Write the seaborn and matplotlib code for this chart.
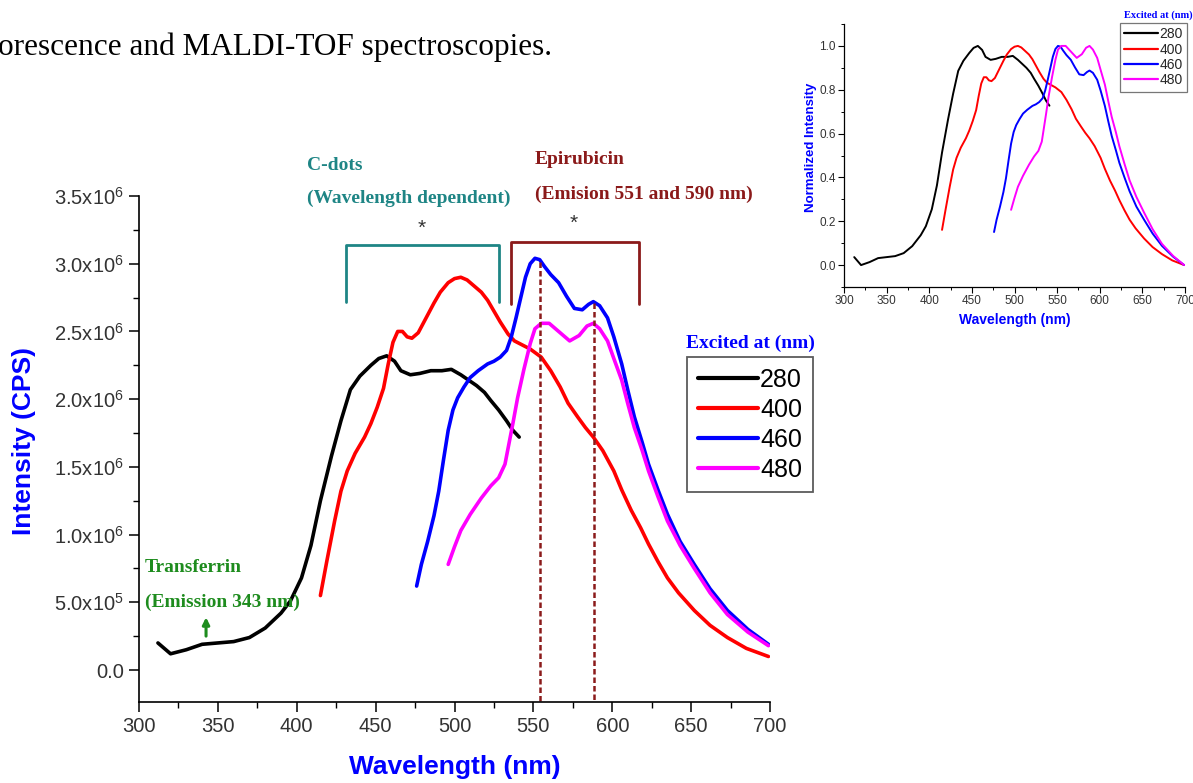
import numpy as np
import pandas as pd
import matplotlib
matplotlib.use("Agg")
import matplotlib.pyplot as plt
import seaborn as sns
from matplotlib.ticker import MultipleLocator, FuncFormatter, FormatStrFormatter
from matplotlib.lines import Line2D

# ---------------- data ----------------
w_280 = [312, 320, 330, 340, 350, 360, 370, 380, 390, 396, 403, 409, 415, 422, 428, 434, 440, 447,
         452, 457, 462, 466, 472, 478, 485, 492, 498, 504, 509, 514, 519, 523, 528, 533, 537, 541]
i_280 = [0.20, 0.12, 0.15, 0.19, 0.20, 0.21, 0.24, 0.31, 0.42, 0.51, 0.68, 0.92, 1.25, 1.58, 1.84,
         2.07, 2.17, 2.25, 2.30, 2.32, 2.28, 2.21, 2.18, 2.19, 2.21, 2.21, 2.22, 2.18, 2.14, 2.10,
         2.05, 1.99, 1.92, 1.84, 1.77, 1.72]

w_400 = [415, 419, 424, 428, 432, 437, 443, 447, 451, 455, 458, 461, 464, 467, 470, 473, 477, 482,
         487, 491, 496, 500, 504, 508, 512, 517, 521, 525, 529, 534, 538, 543, 548, 555, 561, 567,
         572, 578, 583, 588, 594, 601, 606, 612, 618, 623, 629, 635, 642, 652, 662, 673, 685, 699]
i_400 = [0.55, 0.80, 1.10, 1.32, 1.47, 1.60, 1.72, 1.82, 1.94, 2.08, 2.26, 2.42, 2.50, 2.50, 2.46,
         2.45, 2.49, 2.60, 2.71, 2.79, 2.86, 2.89, 2.90, 2.88, 2.84, 2.79, 2.73, 2.65, 2.57, 2.48,
         2.43, 2.40, 2.37, 2.31, 2.21, 2.09, 1.97, 1.87, 1.79, 1.72, 1.62, 1.47, 1.33, 1.18, 1.05,
         0.93, 0.80, 0.68, 0.57, 0.44, 0.33, 0.24, 0.16, 0.10]

w_460 = [476, 479, 483, 487, 490, 493, 496, 499, 502, 506, 510, 515, 521, 525, 529, 533, 536, 539,
         542, 545, 548, 551, 554, 557, 561, 566, 571, 576, 581, 585, 588, 592, 597, 601, 606, 610,
         614, 619, 623, 629, 635, 643, 652, 662, 673, 686, 699]
i_460 = [0.62, 0.78, 0.95, 1.14, 1.32, 1.55, 1.77, 1.92, 2.01, 2.09, 2.16, 2.21, 2.26, 2.28, 2.31,
         2.36, 2.46, 2.60, 2.75, 2.90, 3.00, 3.04, 3.03, 2.98, 2.92, 2.86, 2.76, 2.67, 2.66, 2.70,
         2.72, 2.69, 2.60, 2.46, 2.26, 2.06, 1.87, 1.68, 1.52, 1.33, 1.15, 0.95, 0.78, 0.60, 0.44,
         0.30, 0.19]

w_480 = [496, 500, 504, 510, 517, 523, 528, 532, 534, 537, 540, 544, 548, 551, 555, 560, 566, 573,
         579, 584, 588, 592, 597, 601, 606, 610, 614, 619, 623, 629, 635, 643, 652, 662, 673, 686, 699]
i_480 = [0.78, 0.91, 1.03, 1.15, 1.27, 1.36, 1.42, 1.52, 1.64, 1.82, 2.01, 2.22, 2.41, 2.52, 2.56,
         2.56, 2.50, 2.43, 2.47, 2.54, 2.56, 2.52, 2.43, 2.30, 2.14, 1.96, 1.79, 1.62, 1.47, 1.28,
         1.10, 0.92, 0.75, 0.57, 0.41, 0.28, 0.18]

excitations = ["280", "400", "460", "480"]
colors = ["#000000", "#ff0000", "#0000ff", "#ff00ff"]
intensity_scale = 1e6

cdots_range = (431, 528)        # bracket span (nm)
cdots_levels = (2.72e6, 3.14e6)
epi_range = (536, 617)
epi_levels = (2.70e6, 3.16e6)
epi_peaks = [554, 588.5]
epi_peak_levels = [3.01e6, 2.71e6]
transferrin_peak = 342.5
transferrin_arrow = (0.23e6, 0.41e6)

# ---------------- build frames ----------------
series = {"280": (w_280, i_280), "400": (w_400, i_400),
          "460": (w_460, i_460), "480": (w_480, i_480)}
rows = []
for ex, (ws, vs) in series.items():
    vs = np.array(vs)
    norm = (vs - vs.min()) / (vs.max() - vs.min())
    for a, b, c in zip(ws, vs * intensity_scale, norm):
        rows.append({"Wavelength": a, "Intensity": b, "Normalized": c, "Excitation": ex})
df = pd.DataFrame(rows)
palette = dict(zip(excitations, colors))

# ---------------- style ----------------
sns.set_theme(style="ticks")
plt.rcParams["font.family"] = ["Liberation Sans", "DejaVu Sans"]
plt.rcParams["mathtext.fontset"] = "custom"
plt.rcParams["mathtext.rm"] = "Liberation Sans"
plt.rcParams["mathtext.it"] = "Liberation Sans:italic"
plt.rcParams["mathtext.bf"] = "Liberation Sans:bold"

W, H = 1193, 783
fig = plt.figure(figsize=(W / 100, H / 100), dpi=100)
fig.patch.set_facecolor("white")


def fx(x):
    return x / W


def fy(y):
    return 1 - y / H


SERIF = ["Liberation Serif", "DejaVu Serif"]
TEAL = "#1e8585"
DRED = "#8b1a1a"
GREEN = "#1e8c1e"
BLUE = "#0000ff"
TICKC = "#333333"

# ---------------- main axes ----------------
ax = fig.add_axes([fx(139), fy(702), (770 - 139) / W, (702 - 196) / H])
sns.lineplot(data=df, x="Wavelength", y="Intensity", hue="Excitation", palette=palette,
             estimator=None, lw=2.6, ax=ax, legend=False)
ax.set_xlim(300, 700)
ax.set_ylim(-0.236e6, 3.5e6)
sns.despine(ax=ax)
for s in ["left", "bottom"]:
    ax.spines[s].set_color("black")
    ax.spines[s].set_linewidth(1.2)
ax.xaxis.set_major_locator(MultipleLocator(50))
ax.xaxis.set_minor_locator(MultipleLocator(25))
ax.yaxis.set_major_locator(MultipleLocator(0.5e6))
ax.yaxis.set_minor_locator(MultipleLocator(0.25e6))


def sci(v, pos):
    if abs(v) < 1e-9:
        return "0.0"
    e = int(np.floor(np.log10(abs(v))))
    m = v / 10 ** e
    return f"{m:.1f}x10$^{{{e}}}$"


ax.yaxis.set_major_formatter(FuncFormatter(sci))
ax.tick_params(which="major", direction="out", length=7, width=1.1, color="black",
               labelsize=14.5, labelcolor=TICKC, pad=4)
ax.tick_params(which="minor", direction="out", length=4, width=1.0, color="black")
ax.set_xlabel("Wavelength (nm)", fontsize=19, fontweight="bold", color=BLUE)
ax.set_ylabel("Intensity (CPS)", fontsize=19, fontweight="bold", color=BLUE)
ax.xaxis.set_label_coords(0.5, -0.105)
ax.yaxis.set_label_coords(-0.163, 0.515)

# brackets
ax.plot([cdots_range[0], cdots_range[0], cdots_range[1], cdots_range[1]],
        [cdots_levels[0], cdots_levels[1], cdots_levels[1], cdots_levels[0]],
        color=TEAL, lw=2, clip_on=False)
ax.plot([epi_range[0], epi_range[0], epi_range[1], epi_range[1]],
        [epi_levels[0], epi_levels[1], epi_levels[1], epi_levels[0]],
        color=DRED, lw=2, clip_on=False)
# dashed peak markers
for xp, yp in zip(epi_peaks, epi_peak_levels):
    ax.plot([xp, xp], [yp, -0.236e6], color=DRED, lw=1.8, ls=(0, (2.2, 1.2)))
# transferrin arrow
ax.annotate("", xy=(transferrin_peak, transferrin_arrow[1]),
            xytext=(transferrin_peak, transferrin_arrow[0]),
            arrowprops=dict(arrowstyle="-|>", color=GREEN, lw=2.2, mutation_scale=10))

# texts
fig.text(fx(307), fy(165), "C-dots", fontsize=14, fontweight="bold", family=SERIF,
         color=TEAL, ha="left", va="center")
fig.text(fx(307), fy(198), "(Wavelength dependent)", fontsize=14, fontweight="bold",
         family=SERIF, color=TEAL, ha="left", va="center")
fig.text(fx(535), fy(159), "Epirubicin", fontsize=14, fontweight="bold", family=SERIF,
         color=DRED, ha="left", va="center")
fig.text(fx(535), fy(194), "(Emision 551 and 590 nm)", fontsize=14, fontweight="bold",
         family=SERIF, color=DRED, ha="left", va="center")
fig.text(fx(422), fy(228), "*", fontsize=15, color="#333333", ha="center", va="center")
fig.text(fx(574), fy(223), "*", fontsize=15, color="#333333", ha="center", va="center")
fig.text(fx(145), fy(567), "Transferrin", fontsize=14, fontweight="bold", family=SERIF,
         color=GREEN, ha="left", va="center")
fig.text(fx(145), fy(602), "(Emission 343 nm)", fontsize=14, fontweight="bold",
         family=SERIF, color=GREEN, ha="left", va="center")
fig.text(fx(750), fy(343), "Excited at (nm)", fontsize=14, fontweight="bold", family=SERIF,
         color=BLUE, ha="center", va="center")
fig.text(fx(-2), fy(55), "orescence and MALDI-TOF spectroscopies.", fontsize=22.5,
         family=SERIF, color="black", ha="left", va="baseline")

handles = [Line2D([], [], color=c, lw=3) for c in colors]
leg = ax.legend(handles, excitations, loc="upper left", bbox_to_anchor=(fx(687), fy(357)),
                bbox_transform=fig.transFigure, borderaxespad=0, fontsize=18,
                frameon=True, fancybox=False, edgecolor="#333333", handlelength=2.4,
                handletextpad=0.1, borderpad=0.42, labelspacing=0.24)
leg.get_frame().set_linewidth(1.3)
for t in leg.get_texts():
    t.set_color("black")

# ---------------- inset ----------------
ax2 = fig.add_axes([fx(844), fy(287), (1185 - 844) / W, (287 - 24) / H])
sns.lineplot(data=df, x="Wavelength", y="Normalized", hue="Excitation", palette=palette,
             estimator=None, lw=1.4, ax=ax2, legend=False)
ax2.set_xlim(300, 700)
ax2.set_ylim(-0.1, 1.1)
sns.despine(ax=ax2)
for s in ["left", "bottom"]:
    ax2.spines[s].set_color("black")
    ax2.spines[s].set_linewidth(0.9)
ax2.xaxis.set_major_locator(MultipleLocator(50))
ax2.xaxis.set_minor_locator(MultipleLocator(25))
ax2.yaxis.set_major_locator(MultipleLocator(0.2))
ax2.yaxis.set_minor_locator(MultipleLocator(0.1))
ax2.yaxis.set_major_formatter(FormatStrFormatter("%.1f"))
ax2.tick_params(which="major", direction="out", length=4, width=0.8, color="black",
                labelsize=8.5, labelcolor=TICKC, pad=2)
ax2.tick_params(which="minor", direction="out", length=2.5, width=0.7, color="black")
ax2.set_xlabel("Wavelength (nm)", fontsize=10, fontweight="bold", color=BLUE)
ax2.set_ylabel("Normalized Intensity", fontsize=9.5, fontweight="bold", color=BLUE)
ax2.xaxis.set_label_coords(0.5, -0.1)
ax2.yaxis.set_label_coords(-0.08, 0.532)

fig.text(fx(1158), fy(15), "Excited at (nm)", fontsize=7.5, fontweight="bold", family=SERIF,
         color=BLUE, ha="center", va="center")
handles2 = [Line2D([], [], color=c, lw=1.6) for c in colors]
leg2 = ax2.legend(handles2, excitations, loc="upper left", bbox_to_anchor=(fx(1120), fy(23)),
                  bbox_transform=fig.transFigure, borderaxespad=0, fontsize=10,
                  frameon=True, fancybox=False, edgecolor="#555555", handlelength=2.4,
                  handletextpad=0.15, borderpad=0.3, labelspacing=0.1)
leg2.get_frame().set_linewidth(0.9)

fig.savefig("out.png", dpi=100, facecolor="white")
